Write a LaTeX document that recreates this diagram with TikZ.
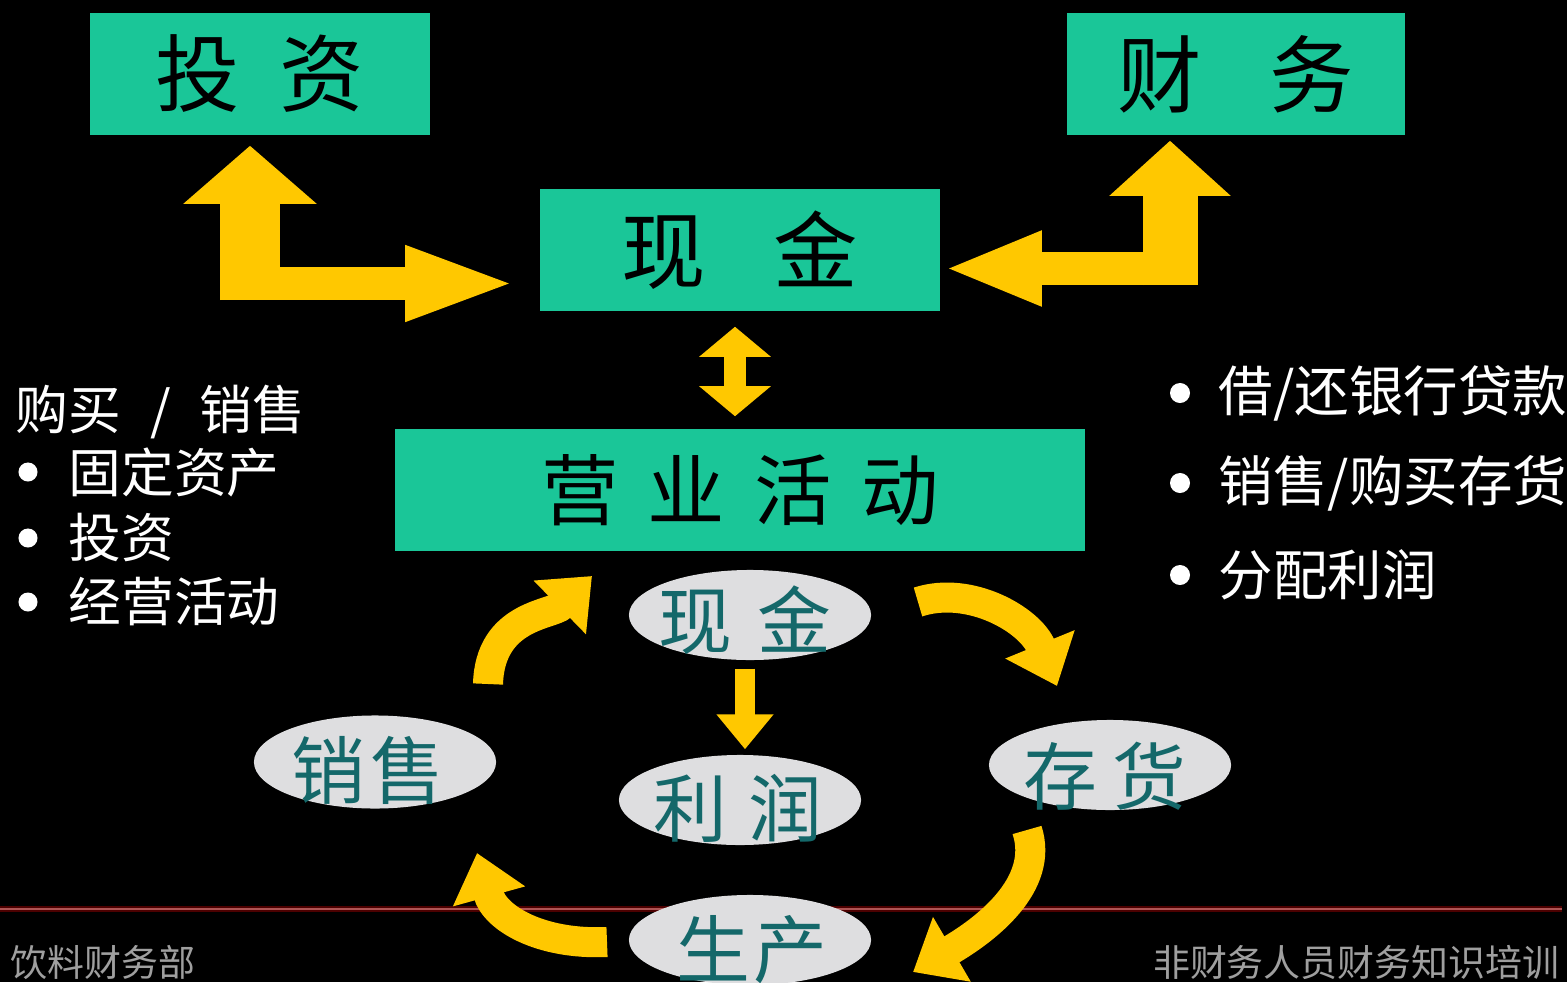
\documentclass[tikz,border=0pt]{standalone}
\usepackage{fontspec}
\setmainfont{Noto Sans CJK SC}
\usepackage{xcolor}
\usetikzlibrary{shapes.geometric, arrows.meta}

\definecolor{boxteal}{RGB}{26,198,152}
\definecolor{arrowgold}{RGB}{255,200,0}
\definecolor{ovalgray}{RGB}{222,222,224}
\definecolor{ovaltext}{RGB}{20,104,106}
\definecolor{footred}{RGB}{175,85,85}

\begin{document}
\begin{tikzpicture}[x=0.01cm, y=-0.01cm,
  tealbox/.style={rectangle, fill=boxteal, inner sep=0pt, minimum height=1.22cm, font=\fontsize{24}{24}\selectfont},
  oval/.style={ellipse, fill=ovalgray, inner sep=0pt, minimum width=2.42cm, minimum height=0.9cm},
  ovaltxt/.style={text=ovaltext, inner sep=0pt, font=\fontsize{21}{21}\selectfont},
  notetext/.style={text=white, anchor=west, inner sep=0pt, font=\fontsize{15}{15}\selectfont},
  bulletdot/.style={circle, fill=white, inner sep=0pt, minimum size=0.19cm},
  footer/.style={text=gray!75, inner sep=0pt, font=\fontsize{10.5}{10.5}\selectfont},
  cyclearrow/.style={draw=arrowgold, line width=0.3cm, -{Triangle[length=0.45cm,width=0.72cm]}}
]
\useasboundingbox (0,0) rectangle (1567,982);
\fill[black] (0,0) rectangle (1567,982);
\clip (0,0) rectangle (1567,982);

% footer rule
\draw[red!30!black, line width=1.6pt] (0,909) -- (1562,909);
\draw[footred, line width=0.6pt] (0,909) -- (1562,909);

% boxes
\node[tealbox, minimum width=3.4cm] (invest) at (260,74) {投\hspace{0.47em}资};
\node[tealbox, minimum width=3.38cm] (finance) at (1236,74) {财\hspace{0.8em}务};
\node[tealbox, minimum width=4.0cm] (cash) at (740,250) {现\hspace{0.8em}金};
\node[tealbox, minimum width=6.9cm, font=\fontsize{22}{22}\selectfont] (ops) at (740,490) {营\hspace{0.38em}业\hspace{0.38em}活\hspace{0.38em}动};

% L shaped arrows
\coordinate (lfoot) at (250,300);
\coordinate (lbend) at (250,283.5);
\coordinate (rfoot) at (1170,285);
\coordinate (rbend) at (1170,268.5);
\draw[draw=arrowgold, line width=0.59cm, shorten >=0.1cm, -{Triangle[length=0.58cm,width=1.3cm]}] (lfoot) -- (lfoot |- invest.south);
\draw[draw=arrowgold, line width=0.33cm, shorten >=0.21cm, -{Triangle[length=1.13cm,width=0.67cm]}] (lbend) -- (lbend -| cash.west);
\draw[draw=arrowgold, line width=0.55cm, shorten >=0.05cm, -{Triangle[length=0.55cm,width=1.18cm]}] (rfoot) -- (rfoot |- finance.south);
\draw[draw=arrowgold, line width=0.33cm, shorten >=0.03cm, -{Triangle[length=0.98cm,width=0.68cm]}] (rbend) -- (rbend -| cash.east);

% cash <-> operations
\draw[draw=arrowgold, line width=0.22cm, shorten <=0.15cm, shorten >=0.12cm, {Triangle[length=0.3cm,width=0.7cm]}-{Triangle[length=0.3cm,width=0.7cm]}] ([xshift=-0.05cm]cash.south) -- ([xshift=-0.05cm]ops.north);

% side notes
\node[notetext] (buysell) at (15,412) {购买\hspace{0.55em}/\hspace{0.55em}销售};
\node[bulletdot] (bl1) at (28,472) {};
\node[notetext] (fixedasset) at (68,472) {固定资产};
\node[bulletdot] (bl2) at (28,538) {};
\node[notetext] (investing) at (68,538) {投资};
\node[bulletdot] (bl3) at (28,602) {};
\node[notetext] (operating) at (68,602) {经营活动};

\node[bulletdot, minimum size=0.2cm] (br1) at (1180,393) {};
\node[notetext, font=\fontsize{15.5}{15.5}\selectfont] (loan) at (1218,393) {借/还银行贷款};
\node[bulletdot, minimum size=0.2cm] (br2) at (1180,483) {};
\node[notetext, font=\fontsize{15.5}{15.5}\selectfont] (stocktrade) at (1218,483) {销售/购买存货};
\node[bulletdot, minimum size=0.2cm] (br3) at (1180,575) {};
\node[notetext, font=\fontsize{15.5}{15.5}\selectfont] (dividend) at (1218,575) {分配利润};

% cycle
\node[oval] (ovcash) at (750,615) {};
\node[ovaltxt] (ovcashtxt) at (745,620) {现\hspace{0.35em}金};
\node[oval] (ovprofit) at (740,800) {};
\node[ovaltxt] (ovprofittxt) at (738,808) {利\hspace{0.28em}润};
\node[oval, minimum height=0.93cm] (ovsales) at (375,762) {};
\node[ovaltxt] (ovsalestxt) at (368,770) {销\hspace{0.07em}售};
\node[oval] (ovstock) at (1110,765) {};
\node[ovaltxt] (ovstocktxt) at (1105,776) {存\hspace{0.2em}货};
\node[oval] (ovmake) at (750,940) {};
\node[ovaltxt] (ovmaketxt) at (752,950) {生\hspace{0.05em}产};

\draw[draw=arrowgold, line width=0.2cm, shorten <=0.08cm, shorten >=0.05cm, -{Triangle[length=0.35cm,width=0.55cm]}] ([xshift=-0.05cm]ovcash.south) -- ([xshift=-0.05cm]ovcash.south |- ovprofit.north);

\coordinate (ta) at (488,684);
\coordinate (ha) at (592,576);
\coordinate (tb) at (918,602);
\coordinate (hb) at (1057,686);
\coordinate (tc) at (1027,830);
\coordinate (hc) at (913,972);
\coordinate (td) at (607,942);
\coordinate (hd) at (477,853);
\draw[cyclearrow] (ta) .. controls (490,615) and (552,615) .. (ha);
\draw[cyclearrow] (tb) .. controls (970,585) and (1030,620) .. (hb);
\draw[cyclearrow] (tc) .. controls (1045,885) and (985,930) .. (hc);
\draw[cyclearrow] (td) .. controls (540,945) and (495,918) .. (hd);

% footers
\node[footer, anchor=west] (footleft) at (10,962) {饮料财务部};
\node[footer, anchor=east] (footright) at (1560,962) {非财务人员财务知识培训};
\end{tikzpicture}
\end{document}
